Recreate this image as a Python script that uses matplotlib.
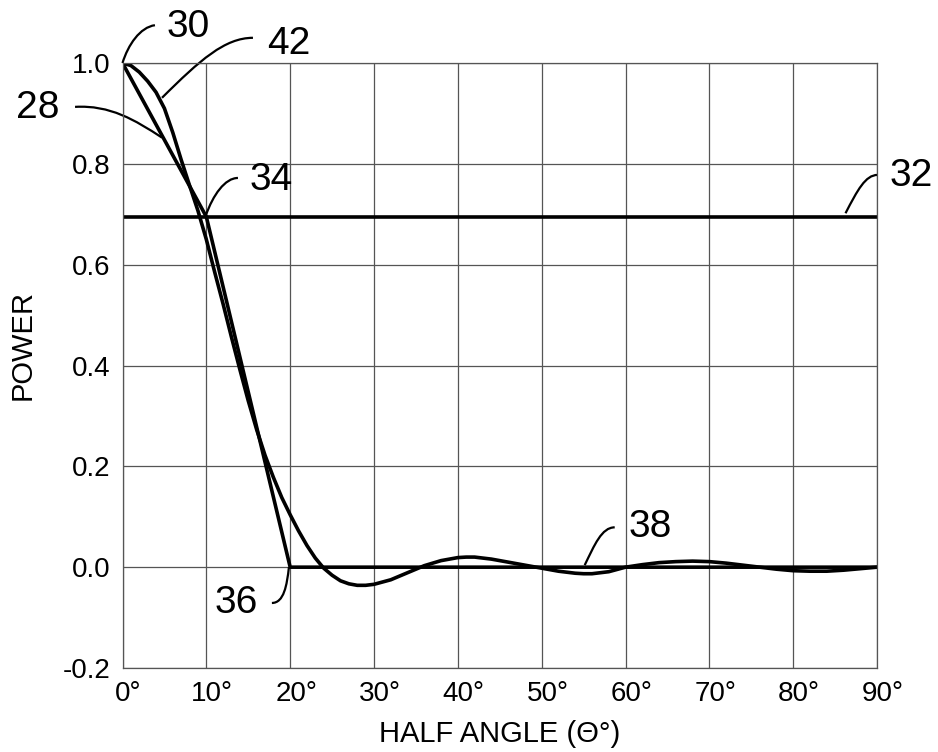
import matplotlib
matplotlib.use("Agg")
import matplotlib.pyplot as plt
from matplotlib.path import Path
from matplotlib.patches import PathPatch
from matplotlib.transforms import ScaledTranslation

plt.rcParams['font.family'] = ['Liberation Sans', 'DejaVu Sans']

# curve 42 (smooth far field)
angle_42 = [0, 1, 2, 3, 4, 5, 6, 7, 8, 9, 10, 11, 12, 13, 14, 15, 16, 17, 18, 19,
            20, 21, 22, 23, 24, 25, 26, 27, 28, 29, 30, 32, 34, 35, 36, 38, 40, 41,
            42, 44, 46, 48, 50, 52, 54, 55, 56, 58, 60, 62, 64, 66, 68, 70, 72, 74,
            76, 78, 80, 82, 84, 86, 88, 90]
power_42 = [1.000, 0.995, 0.982, 0.964, 0.942, 0.910, 0.862, 0.808, 0.757, 0.707,
            0.650, 0.585, 0.522, 0.456, 0.392, 0.330, 0.273, 0.222, 0.178, 0.138,
            0.104, 0.072, 0.043, 0.018, -0.002, -0.016, -0.027, -0.033, -0.036,
            -0.036, -0.034, -0.025, -0.011, -0.004, 0.003, 0.013, 0.019, 0.020,
            0.020, 0.016, 0.010, 0.004, -0.002, -0.008, -0.012, -0.013, -0.013,
            -0.009, 0.000, 0.005, 0.009, 0.011, 0.012, 0.011, 0.008, 0.004,
            0.000, -0.004, -0.007, -0.008, -0.008, -0.006, -0.003, 0.000]

# curve 28 (piecewise straight)
angle_28 = [0, 10, 20, 90]
power_28 = [1.0, 0.695, 0.0, 0.0]

# line 32
level_32 = 0.695

x_ticks = [0, 10, 20, 30, 40, 50, 60, 70, 80, 90]
x_labels = ["0°", "10°", "20°", "30°", "40°", "50°", "60°", "70°", "80°", "90°"]
y_ticks = [-0.2, 0.0, 0.2, 0.4, 0.6, 0.8, 1.0]
y_labels = ["-0.2", "0.0", "0.2", "0.4", "0.6", "0.8", "1.0"]

# reference numerals and their leader curves (cubic bezier, data coords)
callout_text = ["30", "42", "28", "34", "32", "38", "36"]
callout_xy = [(7.8, 1.071), (19.8, 1.038), (-10.1, 0.911), (17.7, 0.768),
              (94.1, 0.776), (63.0, 0.079), (13.6, -0.072)]
leaders = [
    [(3.87, 1.075), (2.09, 1.071), (0.66, 1.036), (0.0, 1.0)],
    [(15.56, 1.050), (12.22, 1.050), (9.24, 1.006), (4.71, 0.931)],
    [(-5.66, 0.913), (-1.49, 0.917), (1.49, 0.887), (4.71, 0.852)],
    [(13.77, 0.772), (12.22, 0.772), (10.79, 0.738), (9.95, 0.698)],
    [(90.06, 0.778), (88.63, 0.778), (87.67, 0.748), (86.24, 0.702)],
    [(58.71, 0.079), (57.16, 0.079), (56.30, 0.044), (55.13, 0.004)],
    [(17.82, -0.071), (19.25, -0.071), (19.61, -0.036), (19.85, 0.0)],
]

fig = plt.figure(figsize=(9.38, 7.52), dpi=100)
ax = fig.add_axes([0.1306, 0.1117, 0.8044, 0.8045])

ax.set_xlim(0, 90)
ax.set_ylim(-0.2, 1.0)
ax.set_xticks(x_ticks)
ax.set_xticklabels(x_labels)
ax.set_yticks(y_ticks)
ax.set_yticklabels(y_labels)
ax.tick_params(length=0, labelsize=20, pad=9)
ax.grid(True, color='#555555', linewidth=0.9)
ax.set_axisbelow(True)
for sp in ax.spines.values():
    sp.set_color('#555555')
    sp.set_linewidth(0.9)

# center the numeral on the tick, degree sign hangs to the right
for lab in ax.get_xticklabels():
    lab.set_transform(lab.get_transform() + ScaledTranslation(6 / 100, 0, fig.dpi_scale_trans))

ax.axhline(level_32, color='black', linewidth=2.6)
ax.plot(angle_28, power_28, color='black', linewidth=2.6, solid_joinstyle='miter')
ax.plot(angle_42, power_42, color='black', linewidth=2.6, solid_capstyle='round')

for txt, xy, pts in zip(callout_text, callout_xy, leaders):
    ax.text(xy[0], xy[1], txt, fontsize=28, ha='center', va='center', clip_on=False)
    path = Path(pts, [Path.MOVETO, Path.CURVE4, Path.CURVE4, Path.CURVE4])
    ax.add_patch(PathPatch(path, facecolor='none', edgecolor='black',
                           linewidth=1.6, clip_on=False))

ax.set_xlabel("HALF ANGLE (\u0398°)", fontsize=21, labelpad=10)
ax.set_ylabel("POWER", fontsize=21, va='center')
ax.yaxis.set_label_coords(-0.133, 0.534)

fig.savefig("out.png", dpi=100)
